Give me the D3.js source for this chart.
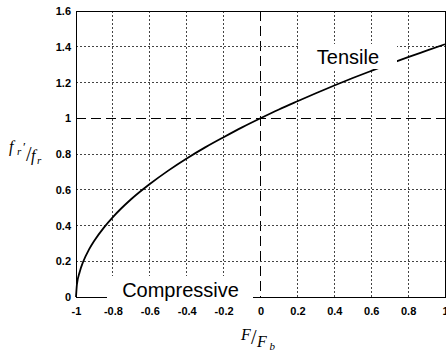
<!DOCTYPE html>
<html><head><meta charset="utf-8">
<script src="https://cdn.jsdelivr.net/npm/d3@7"></script>
<style>
html,body{margin:0;padding:0;background:#fff;}
svg{display:block;}
.tick text{font-family:Arial,"Liberation Sans",sans-serif;font-weight:bold;font-size:11px;fill:#000;}
.lbl{font-family:"Liberation Serif","DejaVu Serif",serif;font-style:italic;fill:#000;}
.ann{font-family:Arial,"Liberation Sans",sans-serif;font-size:20px;fill:#000;}
</style>
</head><body>
<svg id="c" width="446" height="354"></svg>
<script>
// Data: ratio f_r'/f_r vs F/F_b
const forceRatio = [-1, -0.995, -0.98, -0.96, -0.93, -0.9, -0.85, -0.8, -0.7, -0.6, -0.5, -0.4, -0.3, -0.2, -0.1, 0, 0.1, 0.2, 0.3, 0.4, 0.5, 0.6, 0.7, 0.8, 0.9, 1];
const freqRatio  = [0, 0.07, 0.14, 0.2, 0.265, 0.316, 0.387, 0.447, 0.548, 0.632, 0.707, 0.775, 0.837, 0.894, 0.949, 1, 1.049, 1.095, 1.14, 1.183, 1.225, 1.265, 1.304, 1.342, 1.378, 1.414];
const xTicks = [-1, -0.8, -0.6, -0.4, -0.2, 0, 0.2, 0.4, 0.6, 0.8, 1];
const yTicks = [0, 0.2, 0.4, 0.6, 0.8, 1, 1.2, 1.4, 1.6];
const xTickLabels = ["-1", "-0.8", "-0.6", "-0.4", "-0.2", "0", "0.2", "0.4", "0.6", "0.8", "1"];
const yTickLabels = ["0", "0.2", "0.4", "0.6", "0.8", "1", "1.2", "1.4", "1.6"];

const svg = d3.select("#c");
const L = 76, R = 445, T = 11, B = 297;
const x = d3.scaleLinear().domain([-1, 1]).range([L, R]);
const y = d3.scaleLinear().domain([0, 1.6]).range([B, T]);

// grid
const g = svg.append("g");
xTicks.forEach(v => {
  const ref = v === 0;
  g.append("line").attr("x1", x(v)).attr("x2", x(v)).attr("y1", T).attr("y2", B)
    .attr("stroke", ref ? "#000" : "#444").attr("stroke-width", 1)
    .attr("stroke-dasharray", ref ? "10,5" : "2,2")
    .attr("shape-rendering", "crispEdges");
});
yTicks.forEach(v => {
  const ref = v === 1;
  g.append("line").attr("x1", L).attr("x2", R).attr("y1", y(v)).attr("y2", y(v))
    .attr("stroke", ref ? "#000" : "#444").attr("stroke-width", 1)
    .attr("stroke-dasharray", ref ? "10,5" : "2,2")
    .attr("shape-rendering", "crispEdges");
});

// frame
svg.append("rect").attr("x", L).attr("y", T).attr("width", R - L).attr("height", B - T)
  .attr("fill", "none").attr("stroke", "#000").attr("stroke-width", 1).attr("shape-rendering", "crispEdges");

// axes (labels)
const xa = svg.append("g").attr("transform", `translate(0,${B})`)
  .call(d3.axisBottom(x).tickValues(xTicks).tickSize(0).tickPadding(10).tickFormat((d, i) => xTickLabels[i]));
xa.select(".domain").remove();
const ya = svg.append("g").attr("transform", `translate(${L},0)`)
  .call(d3.axisLeft(y).tickValues(yTicks).tickSize(0).tickPadding(5).tickFormat((d, i) => yTickLabels[i]));
ya.select(".domain").remove();

// curve
const pts = forceRatio.map((f, i) => [f, freqRatio[i]]);
svg.append("path").datum(pts)
  .attr("d", d3.line().x(d => x(d[0])).y(d => y(d[1])).curve(d3.curveMonotoneX))
  .attr("fill", "none").attr("stroke", "#000").attr("stroke-width", 1.8);

// annotations with white background
function ann(txt, cx, baseline, bx0, bx1, by0, by1) {
  svg.append("rect").attr("x", bx0).attr("y", by0).attr("width", bx1 - bx0).attr("height", by1 - by0).attr("fill", "#fff");
  svg.append("text").attr("class", "ann").attr("x", cx).attr("y", baseline).attr("text-anchor", "middle").text(txt);
}
ann("Tensile", 348, 63.5, 298, 397, 44, 69);
ann("Compressive", 180.5, 296.5, 107, 253, 276, 299);
// redraw x tick labels on top
xa.raise();

// x axis title: F / F_b
const xt = svg.append("g").attr("class", "lbl");
xt.append("text").attr("x", 241).attr("y", 340).attr("font-size", 16).text("F");
xt.append("text").attr("x", 251).attr("y", 344).attr("font-size", 20).style("font-style", "normal").text("/");
xt.append("text").attr("x", 257).attr("y", 347).attr("font-size", 16).text("F");
xt.append("text").attr("x", 269.5).attr("y", 350).attr("font-size", 11).text("b");

// y axis title: f_r' / f_r
const yt = svg.append("g").attr("class", "lbl");
yt.append("text").attr("x", 9).attr("y", 152).attr("font-size", 16).text("f");
yt.append("text").attr("x", 17).attr("y", 155).attr("font-size", 11).text("r");
yt.append("text").attr("x", 23).attr("y", 151).attr("font-size", 13).style("font-style", "normal").text("\u2032");
yt.append("text").attr("x", 26).attr("y", 161).attr("font-size", 20).style("font-style", "normal").text("/");
yt.append("text").attr("x", 31).attr("y", 161).attr("font-size", 16).text("f");
yt.append("text").attr("x", 37).attr("y", 164).attr("font-size", 11).text("r");
</script>
</body></html>
